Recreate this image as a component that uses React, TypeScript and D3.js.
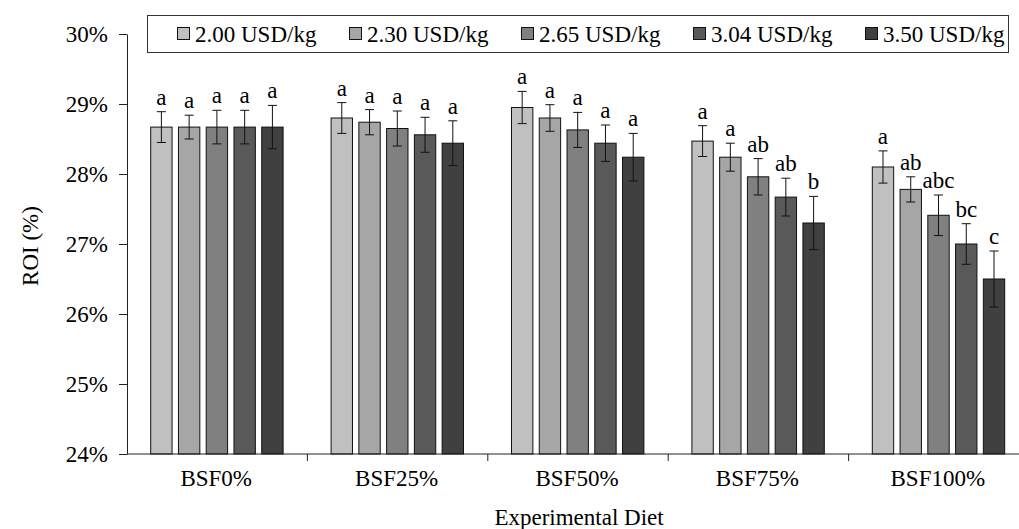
import { useEffect, useRef } from "react";
import * as d3 from "d3";

const diets = ["BSF0%", "BSF25%", "BSF50%", "BSF75%", "BSF100%"];
const prices = ["2.00 USD/kg", "2.30 USD/kg", "2.65 USD/kg", "3.04 USD/kg", "3.50 USD/kg"];
const colors = ["#c0c0c0", "#a6a6a6", "#808080", "#595959", "#404040"];

// ROI (%) per diet, one array per price
const roi = [
  [28.67, 28.67, 28.67, 28.67, 28.67],
  [28.80, 28.74, 28.65, 28.56, 28.44],
  [28.95, 28.80, 28.63, 28.44, 28.24],
  [28.47, 28.24, 27.96, 27.67, 27.30],
  [28.10, 27.78, 27.41, 27.00, 26.50],
];
const err = [
  [0.22, 0.17, 0.24, 0.24, 0.31],
  [0.22, 0.18, 0.25, 0.25, 0.32],
  [0.23, 0.19, 0.25, 0.26, 0.34],
  [0.22, 0.20, 0.26, 0.27, 0.38],
  [0.23, 0.18, 0.29, 0.29, 0.40],
];
const letters = [
  ["a", "a", "a", "a", "a"],
  ["a", "a", "a", "a", "a"],
  ["a", "a", "a", "a", "a"],
  ["a", "a", "ab", "ab", "b"],
  ["a", "ab", "abc", "bc", "c"],
];
const yTicks = [24, 25, 26, 27, 28, 29, 30];

const font = "'Liberation Serif', 'Times New Roman', serif";
const fs = 23;

export default function App() {
  const svgRef = useRef<SVGSVGElement>(null);
  const width = 1019;
  const height = 529;

  useEffect(() => {
    const svg = d3.select(svgRef.current);
    svg.selectAll("*").remove();

    const left = 127;
    const bottom = 454;
    const top = 34;

    const x = d3.scaleBand().domain(diets).range([left, left + 5 * 180.4]);
    const xInner = d3.scaleBand().domain(prices).range([23.7, x.bandwidth() - 24.3]).paddingInner(0.23);
    const y = d3.scaleLinear().domain([24, 30]).range([bottom, top]);

    // bars
    const groups = svg.append("g")
      .selectAll("g")
      .data(diets)
      .join("g")
      .attr("transform", (d) => `translate(${x(d)},0)`);

    groups.each(function (_d, gi) {
      const g = d3.select(this);
      prices.forEach((p, si) => {
        const bx = xInner(p)!;
        const bw = xInner.bandwidth();
        const v = roi[gi][si];
        const e = err[gi][si];
        g.append("rect")
          .attr("x", bx)
          .attr("y", y(v))
          .attr("width", bw)
          .attr("height", bottom - y(v))
          .attr("fill", colors[si])
          .attr("stroke", "#111")
          .attr("stroke-width", 1);
        const cx = bx + bw / 2;
        g.append("line").attr("x1", cx).attr("x2", cx).attr("y1", y(v + e)).attr("y2", y(v - e)).attr("stroke", "#111");
        g.append("line").attr("x1", cx - 4.5).attr("x2", cx + 4.5).attr("y1", y(v + e)).attr("y2", y(v + e)).attr("stroke", "#111");
        g.append("line").attr("x1", cx - 4.5).attr("x2", cx + 4.5).attr("y1", y(v - e)).attr("y2", y(v - e)).attr("stroke", "#111");
        g.append("text")
          .attr("x", cx)
          .attr("y", y(v + e) - 7)
          .attr("text-anchor", "middle")
          .attr("font-family", font)
          .attr("font-size", fs)
          .attr("fill", "#000")
          .text(letters[gi][si]);
      });
    });

    // y axis
    const yAxis = svg.append("g")
      .attr("transform", `translate(${left},0)`)
      .call(d3.axisLeft(y).tickValues(yTicks).tickSize(8).tickSizeOuter(0).tickPadding(11).tickFormat((d) => `${d}%`));
    yAxis.selectAll("text").attr("font-family", font).attr("font-size", fs).attr("fill", "#000");
    yAxis.selectAll("line,path").attr("stroke", "#222");

    // x axis
    svg.append("line").attr("x1", left).attr("x2", width).attr("y1", bottom).attr("y2", bottom).attr("stroke", "#222");
    svg.append("g")
      .selectAll("line")
      .data(diets.slice(1))
      .join("line")
      .attr("x1", (d) => x(d)!)
      .attr("x2", (d) => x(d)!)
      .attr("y1", bottom)
      .attr("y2", bottom + 7)
      .attr("stroke", "#222");
    svg.append("g")
      .selectAll("text")
      .data(diets)
      .join("text")
      .attr("x", (d) => x(d)! + x.bandwidth() / 2 - 1)
      .attr("y", 486)
      .attr("text-anchor", "middle")
      .attr("font-family", font)
      .attr("font-size", fs)
      .text((d) => d);

    svg.append("text")
      .attr("x", 579)
      .attr("y", 525)
      .attr("text-anchor", "middle")
      .attr("font-family", font)
      .attr("font-size", fs)
      .text("Experimental Diet");

    svg.append("text")
      .attr("transform", "translate(38,246) rotate(-90)")
      .attr("text-anchor", "middle")
      .attr("font-family", font)
      .attr("font-size", fs)
      .text("ROI (%)");

    // legend
    const legend = svg.append("g");
    legend.append("rect")
      .attr("x", 147.5).attr("y", 15.5).attr("width", 861).attr("height", 37)
      .attr("fill", "#fff").attr("stroke", "#333");
    const lx = d3.scalePoint().domain(prices).range([177, 865]);
    const items = legend.selectAll("g.item").data(prices).join("g")
      .attr("class", "item")
      .attr("transform", (d) => `translate(${lx(d)},34)`);
    items.append("rect")
      .attr("x", 0.5).attr("y", -6.5).attr("width", 12).attr("height", 12)
      .attr("fill", (_d, i) => colors[i]).attr("stroke", "#111");
    items.append("text")
      .attr("x", 18).attr("y", 8)
      .attr("font-family", font)
      .attr("font-size", fs)
      .text((d) => d);
  }, []);

  return (
    <svg
      ref={svgRef}
      width={width}
      height={height}
      style={{ position: "absolute", left: 0, top: 0, background: "#fff" }}
    />
  );
}
